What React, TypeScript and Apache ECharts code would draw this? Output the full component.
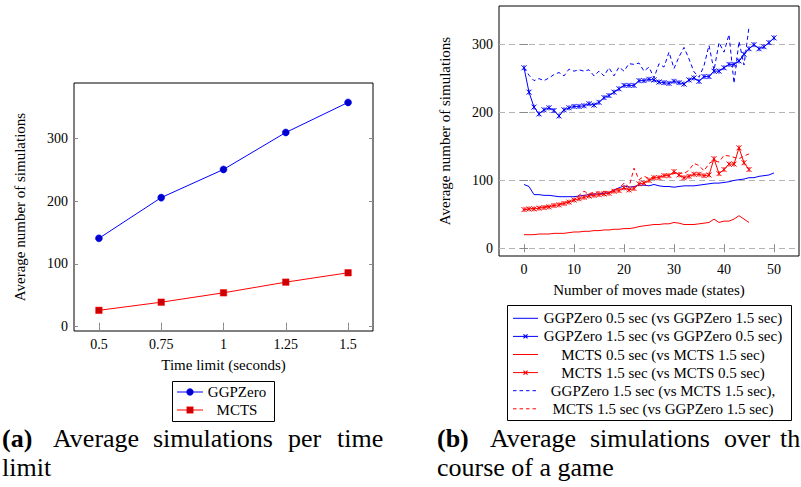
import React, { useEffect, useRef } from "react";
import * as echarts from "echarts";

// ---------- Data: (a) average simulations per time limit ----------
const timeLimits = [0.5, 0.75, 1, 1.25, 1.5];
const timeTicks = [0.5, 0.75, 1, 1.25, 1.5];
const ggpzeroSims = [141, 206, 251, 310, 358];
const mctsSims = [26, 39, 54, 71, 86];
const simTicksA = [0, 100, 200, 300];

// ---------- Data: (b) average simulations over the course of a game ----------
const moves = [
  0, 1, 2, 3, 4, 5, 6, 7, 8, 9, 10, 11, 12, 13, 14, 15, 16, 17, 18, 19, 20, 21, 22, 23, 24, 25,
  26, 27, 28, 29, 30, 31, 32, 33, 34, 35, 36, 37, 38, 39, 40, 41, 42, 43, 44, 45, 46, 47, 48, 49, 50,
];
const moveTicks = [0, 10, 20, 30, 40, 50];
const simTicksB = [0, 100, 200, 300];

const ggp05vsGgp15 = [
  94, 91, 79, 79, 78, 78, 77, 76, 76, 76, 76, 77, 78, 79, 80, 80, 81, 82, 86, 89, 92, 90, 91, 93, 93,
  92, 94, 92, 91, 91, 90, 91, 92, 92, 92, 93, 94, 95, 96, 96, 97, 98, 100, 101, 102, 104, 104, 106,
  107, 108, 111,
];
const ggp15vsGgp05 = [
  266, 230, 208, 198, 204, 207, 203, 195, 204, 207, 209, 209, 210, 213, 211, 215, 222, 225, 230, 235,
  240, 240, 240, 247, 247, 249, 248, 245, 244, 243, 246, 244, 242, 248, 251, 246, 253, 253, 261, 261,
  266, 271, 271, 276, 286, 294, 300, 294, 297, 303, 310,
];
const mcts05vsMcts15 = [
  20, 20, 20, 21, 21, 21, 22, 22, 22, 23, 24, 24, 25, 25, 26, 26, 27, 27, 28, 28, 29, 29, 30, 32, 33,
  34, 35, 35, 36, 36, 38, 37, 35, 35, 35, 36, 37, 38, 43, 38, 40, 40, 43, 48, 43, 38,
];
const mcts15vsMcts05 = [
  57, 58, 58, 59, 60, 61, 63, 64, 66, 68, 71, 73, 75, 77, 78, 79, 80, 81, 84, 85, 89, 86, 88, 95, 96,
  100, 104, 104, 107, 107, 113, 108, 104, 106, 109, 109, 107, 108, 132, 110, 116, 124, 124, 148, 126,
  116,
];
const ggp15vsMcts15 = [
  266, 255, 247, 250, 247, 251, 256, 259, 254, 264, 261, 263, 261, 263, 254, 261, 254, 266, 254, 267,
  261, 272, 271, 273, 261, 267, 251, 272, 267, 289, 265, 282, 296, 279, 260, 252, 269, 299, 262, 303,
  289, 315, 243, 305, 270, 326,
];
const mcts15vsGgp15 = [
  57, 58, 59, 60, 61, 62, 63, 65, 67, 69, 72, 78, 84, 80, 83, 83, 84, 82, 86, 88, 96, 90, 118, 101,
  106, 103, 105, 105, 108, 108, 110, 111, 110, 115, 125, 122, 114, 125, 129, 127, 137, 136, 134, 132,
  136, 139,
];

const namesA = ["GGPZero", "MCTS"];
const namesB = [
  "GGPZero 0.5 sec (vs GGPZero 1.5 sec)",
  "GGPZero 1.5 sec (vs GGPZero 0.5 sec)",
  "MCTS 0.5 sec (vs MCTS 1.5 sec)",
  "MCTS 1.5 sec (vs MCTS 0.5 sec)",
  "GGPZero 1.5 sec (vs MCTS 1.5 sec),",
  "MCTS 1.5 sec (vs GGPZero 1.5 sec)",
];

const SERIF = "Liberation Serif";
const BLUE = "#0000ff";
const RED = "#ff0000";
const TICK = "#8a8a8a";
const STAR = "path://M0,0L10,10M10,0L0,10M5,0L5,10";

function pairs(xs: number[], ys: number[]) {
  return ys.map((y, i) => [xs[i], y]);
}

function mainX(grid: number, min: number, max: number, ticks: number[], name: string) {
  return {
    type: "value",
    gridIndex: grid,
    min,
    max,
    position: "bottom",
    axisLine: { show: false },
    axisTick: { show: true, inside: true, length: 4, customValues: ticks, lineStyle: { color: TICK } },
    axisLabel: {
      show: true,
      customValues: ticks,
      margin: 6,
      color: "#000",
      fontFamily: SERIF,
      fontSize: 14,
    },
    splitLine: { show: false },
    name,
    nameLocation: "middle",
    nameGap: 26,
    nameTextStyle: { color: "#000", fontFamily: SERIF, fontSize: 15 },
  };
}
function sideX(grid: number, min: number, max: number, ticks: number[]) {
  return {
    type: "value",
    gridIndex: grid,
    min,
    max,
    position: "top",
    axisLine: { show: false },
    axisTick: { show: true, inside: true, length: 4, customValues: ticks, lineStyle: { color: TICK } },
    axisLabel: { show: false },
    splitLine: { show: false },
  };
}
function mainY(grid: number, min: number, max: number, ticks: number[], name: string, dashedGrid: boolean) {
  return {
    type: "value",
    gridIndex: grid,
    min,
    max,
    position: "left",
    axisLine: { show: false },
    axisTick: { show: true, inside: true, length: 4, customValues: ticks, lineStyle: { color: TICK } },
    axisLabel: {
      show: true,
      customValues: ticks,
      margin: 6,
      color: "#000",
      fontFamily: SERIF,
      fontSize: 14,
    },
    splitLine: {
      show: dashedGrid,
      lineStyle: { color: "#b4b4b4", type: [6, 4], width: 1 },
    },
    name,
    nameLocation: "middle",
    nameGap: 47,
    nameTextStyle: { color: "#000", fontFamily: SERIF, fontSize: 15 },
  };
}
function sideY(grid: number, min: number, max: number, ticks: number[]) {
  return {
    type: "value",
    gridIndex: grid,
    min,
    max,
    position: "right",
    axisLine: { show: false },
    axisTick: { show: true, inside: true, length: 4, customValues: ticks, lineStyle: { color: TICK } },
    axisLabel: { show: false },
    splitLine: { show: false },
  };
}

function buildGraphic() {
  const els: any[] = [];
  const txt = (text: string, x: number, y: number, size: number, align = "left", bold = false) => ({
    type: "text",
    silent: true,
    style: {
      text,
      x,
      y,
      fontFamily: SERIF,
      fontSize: size,
      fontWeight: bold ? "bold" : "normal",
      fill: "#000",
      align,
      verticalAlign: "middle",
    },
  });

  // Legend (a)
  els.push({
    type: "rect",
    silent: true,
    shape: { x: 172.5, y: 381.5, width: 102, height: 40 },
    style: { fill: "#fff", stroke: "#000", lineWidth: 1 },
  });
  const rowsA = [392, 410];
  const colA = [BLUE, RED];
  rowsA.forEach((y, i) => {
    els.push({
      type: "line",
      silent: true,
      shape: { x1: 177, y1: y, x2: 203, y2: y },
      style: { stroke: colA[i], lineWidth: 1 },
    });
    if (i === 0) {
      els.push({
        type: "circle",
        silent: true,
        shape: { cx: 190, cy: y, r: 3.4 },
        style: { fill: "#0000cc", stroke: BLUE, lineWidth: 0.5 },
      });
    } else {
      els.push({
        type: "rect",
        silent: true,
        shape: { x: 186.8, y: y - 3.2, width: 6.4, height: 6.4 },
        style: { fill: "#cc0000", stroke: RED, lineWidth: 0.5 },
      });
    }
    els.push(txt(namesA[i], 237, y, 15, "center"));
  });

  // Legend (b)
  els.push({
    type: "rect",
    silent: true,
    shape: { x: 507.5, y: 305.5, width: 284, height: 115 },
    style: { fill: "#fff", stroke: "#000", lineWidth: 1 },
  });
  const colB = [BLUE, BLUE, RED, RED, BLUE, RED];
  const dashB = [false, false, false, false, true, true];
  const starB = [false, true, false, true, false, false];
  namesB.forEach((name, i) => {
    const y = 318.3 + i * 18.1;
    els.push({
      type: "line",
      silent: true,
      shape: { x1: 513, y1: y, x2: 538, y2: y },
      style: { stroke: colB[i], lineWidth: 1, lineDash: dashB[i] ? [3.5, 3] : null },
    });
    if (starB[i]) {
      els.push({
        type: "line",
        silent: true,
        shape: { x1: 523.5, y1: y - 2, x2: 527.5, y2: y + 2 },
        style: { stroke: colB[i], lineWidth: 1.2 },
      });
      els.push({
        type: "line",
        silent: true,
        shape: { x1: 523.5, y1: y + 2, x2: 527.5, y2: y - 2 },
        style: { stroke: colB[i], lineWidth: 1.2 },
      });
    }
    els.push(txt(name, 663, y, 15, "center"));
  });

  // Captions
  const y1 = 438;
  const y2 = 467;
  els.push(txt("(a)", 2, y1, 26, "left", true));
  els.push(txt("Average", 53, y1, 26));
  els.push(txt("simulations", 153, y1, 26));
  els.push(txt("per", 288, y1, 26));
  els.push(txt("time", 337, y1, 26));
  els.push(txt("limit", 2, y2, 26));

  els.push(txt("(b)", 437, y1, 26, "left", true));
  els.push(txt("Average", 490, y1, 26));
  els.push(txt("simulations", 590, y1, 26));
  els.push(txt("over", 724, y1, 26));
  els.push(txt("th", 780, y1, 26));
  els.push(txt("course of a game", 437, y2, 26));
  return els;
}

export default function App() {
  const ref = useRef<HTMLDivElement>(null);
  useEffect(() => {
    if (!ref.current) return;
    const chart = echarts.init(ref.current, null, { renderer: "svg", width: 801, height: 487 });
    const thin = (color: string, dashed = false) => ({
      color,
      width: 1,
      type: dashed ? ([4, 3] as any) : "solid",
    });
    const option: any = {
      animation: false,
      backgroundColor: "#fff",
      textStyle: { fontFamily: SERIF },
      grid: [
        { left: 74, top: 83, width: 299, height: 248, show: true, borderColor: "#000", borderWidth: 1, containLabel: false },
        { left: 499, top: 6, width: 300, height: 250, show: true, borderColor: "#000", borderWidth: 1, containLabel: false },
      ],
      xAxis: [
        mainX(0, 0.4, 1.6, timeTicks, "Time limit (seconds)"),
        sideX(0, 0.4, 1.6, timeTicks),
        mainX(1, -5, 55, moveTicks, "Number of moves made (states)"),
        sideX(1, -5, 55, moveTicks),
      ],
      yAxis: [
        mainY(0, -7, 389, simTicksA, "Average number of simulations", false),
        sideY(0, -7, 389, simTicksA),
        mainY(1, -11.4, 357, simTicksB, "Average number of simulations", true),
        sideY(1, -11.4, 357, simTicksB),
      ],
      series: [
        {
          name: namesA[0],
          type: "line",
          xAxisIndex: 0,
          yAxisIndex: 0,
          data: pairs(timeLimits, ggpzeroSims),
          symbol: "circle",
          symbolSize: 7,
          lineStyle: thin(BLUE),
          itemStyle: { color: "#0000cc", borderColor: BLUE, borderWidth: 0.5 },
        },
        {
          name: namesA[1],
          type: "line",
          xAxisIndex: 0,
          yAxisIndex: 0,
          data: pairs(timeLimits, mctsSims),
          symbol: "rect",
          symbolSize: 6.5,
          lineStyle: thin(RED),
          itemStyle: { color: "#cc0000", borderColor: RED, borderWidth: 0.5 },
        },
        {
          name: namesB[0],
          type: "line",
          xAxisIndex: 2,
          yAxisIndex: 2,
          data: pairs(moves, ggp05vsGgp15),
          symbol: "none",
          lineStyle: thin(BLUE),
        },
        {
          name: namesB[1],
          type: "line",
          xAxisIndex: 2,
          yAxisIndex: 2,
          data: pairs(moves, ggp15vsGgp05),
          symbol: STAR,
          symbolSize: 5,
          lineStyle: thin(BLUE),
          itemStyle: { color: BLUE, borderColor: BLUE, borderWidth: 1 },
        },
        {
          name: namesB[2],
          type: "line",
          xAxisIndex: 2,
          yAxisIndex: 2,
          data: pairs(moves, mcts05vsMcts15),
          symbol: "none",
          lineStyle: thin(RED),
        },
        {
          name: namesB[3],
          type: "line",
          xAxisIndex: 2,
          yAxisIndex: 2,
          data: pairs(moves, mcts15vsMcts05),
          symbol: STAR,
          symbolSize: 5,
          lineStyle: thin(RED),
          itemStyle: { color: RED, borderColor: RED, borderWidth: 1 },
        },
        {
          name: namesB[4],
          type: "line",
          xAxisIndex: 2,
          yAxisIndex: 2,
          data: pairs(moves, ggp15vsMcts15),
          symbol: "none",
          lineStyle: thin(BLUE, true),
        },
        {
          name: namesB[5],
          type: "line",
          xAxisIndex: 2,
          yAxisIndex: 2,
          data: pairs(moves, mcts15vsGgp15),
          symbol: "none",
          lineStyle: thin(RED, true),
        },
      ],
      graphic: buildGraphic(),
    };
    chart.setOption(option);
    return () => chart.dispose();
  }, []);
  return (
    <div
      ref={ref}
      style={{ position: "fixed", left: 0, top: 0, width: 801, height: 487, background: "#fff" }}
    />
  );
}
